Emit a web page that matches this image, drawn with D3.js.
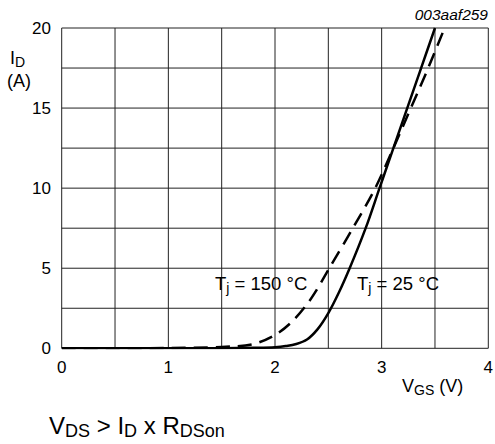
<!DOCTYPE html>
<html>
<head>
<meta charset="utf-8">
<script src="https://cdn.jsdelivr.net/npm/d3@7"></script>
<style>
  html, body { margin: 0; padding: 0; background: #fff; }
  svg { display: block; font-family: "Liberation Sans", Arial, sans-serif; }
</style>
</head>
<body>
<svg id="chart" width="495" height="444"></svg>
<script>
// Transfer characteristics: drain current vs gate-source voltage
const vgsTicks = [0, 1, 2, 3, 4];
const idTicks = [0, 5, 10, 15, 20];

// Tj = 25 °C
const vgs25 = [0, 0.5, 1.0, 1.5, 1.8, 2.0, 2.1, 2.2, 2.3, 2.4, 2.5, 2.6, 2.7, 2.85, 2.98, 3.11, 3.24, 3.37, 3.5];
const id25  = [0, 0, 0, 0.01, 0.03, 0.07, 0.14, 0.27, 0.55, 1.2, 2.2, 3.5, 5.0, 7.5, 10, 12.5, 15, 17.5, 20];

// Tj = 150 °C
const vgs150 = [0, 0.5, 1.0, 1.5, 1.8, 2.0, 2.15, 2.3, 2.4, 2.5, 2.73, 2.94, 3.11, 3.28, 3.43, 3.59];
const id150  = [0, 0, 0.02, 0.08, 0.27, 0.83, 1.6, 2.75, 3.75, 4.9, 7.5, 10, 12.5, 15.1, 17.4, 20];

const svg = d3.select("#chart");
const plotL = 61.7, plotR = 488.3, plotT = 28, plotB = 348.3;

const x = d3.scaleLinear().domain([0, 4]).range([plotL, plotR]);
const y = d3.scaleLinear().domain([0, 20]).range([plotB, plotT]);

// grid: every 0.5 V and every 2.5 A
const grid = svg.append("g").attr("stroke", "#222").attr("stroke-width", 1).attr("fill", "none");
grid.selectAll("line.v").data(d3.range(0, 4.01, 0.5)).join("line")
  .attr("x1", d => x(d)).attr("x2", d => x(d)).attr("y1", plotT).attr("y2", plotB);
grid.selectAll("line.h").data(d3.range(0, 20.01, 2.5)).join("line")
  .attr("x1", plotL).attr("x2", plotR).attr("y1", d => y(d)).attr("y2", d => y(d));

// tick labels
const tickFont = 17;
svg.append("g").selectAll("text").data(vgsTicks).join("text")
  .attr("x", d => x(d)).attr("y", 373).attr("text-anchor", "middle")
  .attr("font-size", tickFont).text(d => d);
svg.append("g").selectAll("text").data(idTicks).join("text")
  .attr("x", 51).attr("y", d => y(d) + 6).attr("text-anchor", "end")
  .attr("font-size", tickFont).text(d => d);

// curves
const line = d3.line().x(d => x(d[0])).y(d => y(d[1])).curve(d3.curveCatmullRom.alpha(0.5));
svg.append("defs").append("clipPath").attr("id", "plot")
  .append("rect").attr("x", plotL).attr("y", plotT - 1).attr("width", plotR - plotL).attr("height", plotB - plotT + 2);

const curves = svg.append("g").attr("clip-path", "url(#plot)").attr("fill", "none")
  .attr("stroke", "#000").attr("stroke-width", 2.5);
curves.append("path").attr("d", line(d3.zip(vgs150, id150))).attr("stroke-dasharray", "14,8");
curves.append("path").attr("d", line(d3.zip(vgs25, id25)));

// text with lowered subscripts
function richText(xPos, yPos, size, subSize, parts, anchor) {
  const t = svg.append("text").attr("x", xPos).attr("y", yPos).attr("font-size", size);
  if (anchor) t.attr("text-anchor", anchor);
  let prevSub = false;
  parts.forEach(([s, sub]) => {
    const sp = t.append("tspan").text(s);
    if (sub) { sp.attr("font-size", subSize); if (!prevSub) sp.attr("dy", 3); }
    else if (prevSub) sp.attr("dy", -3);
    prevSub = sub;
  });
  return t;
}

// axis titles
richText(10, 64, 18, 14, [["I", false], ["D", true]]);
svg.append("text").attr("x", 7).attr("y", 87).attr("font-size", 18).text("(A)");
richText(402, 392, 18, 14, [["V", false], ["GS", true], [" (V)", false]]);

// curve labels
richText(215, 290, 18.5, 14, [["T", false], ["j", true], [" = 150 °C", false]]);
richText(357, 290, 18.5, 14, [["T", false], ["j", true], [" = 25 °C", false]]);

// figure id
svg.append("text").attr("x", 488).attr("y", 20).attr("text-anchor", "end")
  .attr("font-size", 15.5).attr("font-style", "italic").text("003aaf259");

// condition note
richText(49, 434, 24, 18, [["V", false], ["DS", true], [" > I", false], ["D", true], [" x R", false], ["DSon", true]]);
</script>
</body>
</html>
